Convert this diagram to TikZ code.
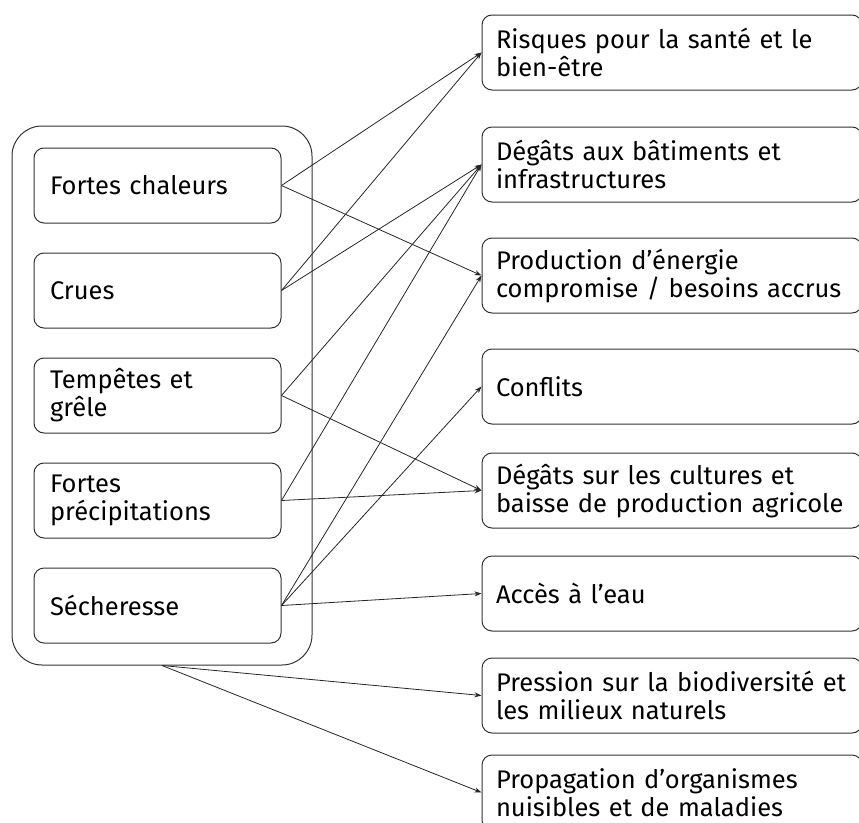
\documentclass[tikz,border=0pt]{standalone}
\usepackage{fontspec}
\setmainfont{Fira Sans}
\usetikzlibrary{positioning,arrows.meta}

\begin{document}
\begin{tikzpicture}[x=1pt,y=-1pt,node distance=29pt,
font=\fontsize{25.5}{28}\selectfont,
cause/.style={rectangle,draw=black!80,line width=1pt,rounded corners=10pt,minimum width=247pt,minimum height=75pt,text width=215pt,inner xsep=16pt,align=left},
effect/.style={rectangle,draw=black!80,line width=1pt,rounded corners=10pt,minimum width=380pt,minimum height=75pt,text width=352pt,inner xsep=14pt,align=left},
group/.style={rectangle,draw=black!80,line width=1pt,rounded corners=30pt,minimum width=300pt,minimum height=539pt},
paths/.style={-{Stealth[length=7pt,width=5pt]},black!85,line width=0.8pt}
]
\clip (0,0) rectangle (859,822);

%create nodes
\node[group] (group) at (162,395.5) {};

\node[cause] (chaleur) at (157.5,185.5) {Fortes chaleurs};
\node[cause, below=of chaleur] (crues) {Crues};
\node[cause, below=of crues] (tempetes) {Tempêtes et\\grêle};
\node[cause, below=of tempetes] (precip) {Fortes\\précipitations};
\node[cause, below=of precip] (secheresse) {Sécheresse};

\node[effect] (risques) at (672,52.5) {Risques pour la santé et le\\bien-être};
\node[effect, below=36pt of risques] (batiments) {Dégâts aux bâtiments et\\infrastructures};
\node[effect, below=35pt of batiments] (energie) {Production d’énergie\\compromise / besoins accrus};
\node[effect, below=35pt of energie] (conflits) {Conflits};
\node[effect, below=28pt of conflits] (cultures) {Dégâts sur les cultures et\\baisse de production agricole};
\node[effect, below=27pt of cultures] (eau) {Accès à l’eau};
\node[effect, below=26pt of eau] (biodiv) {Pression sur la biodiversité et\\les milieux naturels};
\node[effect, below=21pt of biodiv] (organismes) {Propagation d’organismes\\nuisibles et de maladies};

%draw paths
\draw[paths] (chaleur.east) -- (risques.west);
\draw[paths] (chaleur.east) -- (energie.west);
\draw[paths] (crues.east) -- (risques.west);
\draw[paths] (crues.east) -- (batiments.west);
\draw[paths] (tempetes.east) -- (batiments.west);
\draw[paths] (tempetes.east) -- (cultures.west);
\draw[paths] (precip.east) -- (batiments.west);
\draw[paths] (precip.east) -- (cultures.west);
\draw[paths] (secheresse.east) -- (energie.west);
\draw[paths] (secheresse.east) -- (conflits.west);
\draw[paths] (secheresse.east) -- (eau.west);

%whole group
\draw[paths] (group.south) -- (biodiv.west);
\draw[paths] (group.south) -- (organismes.west);

\end{tikzpicture}
\end{document}
